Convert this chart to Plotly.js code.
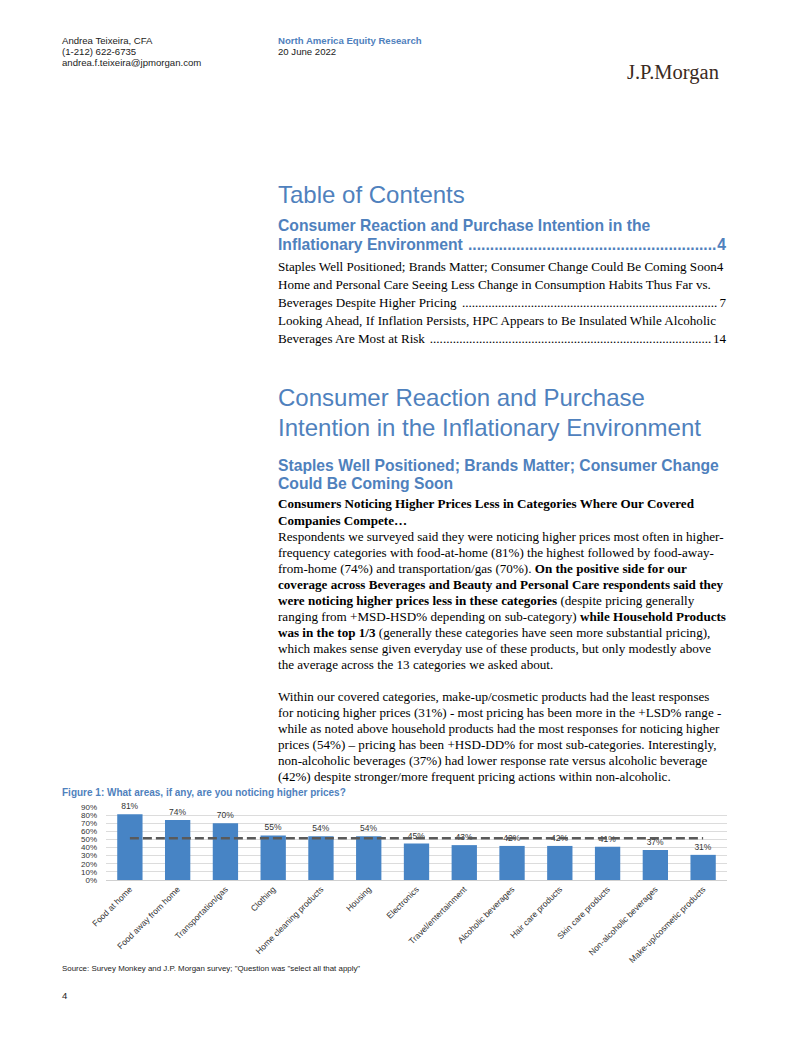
<!DOCTYPE html>
<html>
<head>
<meta charset="utf-8">
<script src="https://cdn.plot.ly/plotly-3.0.1.min.js"></script>
<style>
  html, body { margin:0; padding:0; background:#fff; }
  body { width:802px; height:1037px; position:relative; overflow:hidden; }
  .l { position:absolute; white-space:nowrap; }
  .sans { font-family:"Liberation Sans", Arial, sans-serif; }
  .serif { font-family:"Liberation Serif", "Times New Roman", serif; }
  .hdr { font-size:9.6px; color:#222; line-height:11px; }
  .blue { color:#4f81bd; }
  .big { font-size:24px; line-height:28px; color:#4f81bd; }
  .h2 { font-size:15.7px; line-height:19px; font-weight:bold; color:#4f81bd; }
  .body { font-size:13.1px; line-height:16px; color:#000; }
  .lead { display:flex; justify-content:space-between; width:448px; }
  #chart { position:absolute; left:0; top:785px; width:802px; height:190px; }
</style>
</head>
<body>
<div id="chart"></div>
<div id="page"></div>
<script>
// ---------- chart data ----------
const categories = ["Food at home","Food away from home","Transportation/gas","Clothing","Home cleaning products","Housing","Electronics","Travel/entertainment","Alcoholic beverages","Hair care products","Skin care products","Non-alcoholic beverages","Make-up/cosmetic products"];
const values = [81,74,70,55,54,54,45,43,42,42,41,37,31];
const valueLabels = ["81%","74%","70%","55%","54%","54%","45%","43%","42%","42%","41%","37%","31%"];
const averageLine = [51.5,51.5,51.5,51.5,51.5,51.5,51.5,51.5,51.5,51.5,51.5,51.5,51.5];
const yTickVals = [0,10,20,30,40,50,60,70,80,90];
const yTickText = ["0%","10%","20%","30%","40%","50%","60%","70%","80%","90%"];

// ---------- page text ----------
const page = document.getElementById('page');
function line(html, x, cy, cls, lh) {
  const d = document.createElement('div');
  d.className = 'l ' + cls;
  d.style.left = x + 'px';
  d.style.top = (cy - lh/2) + 'px';
  d.innerHTML = html;
  page.appendChild(d);
  return d;
}
function leader(prefix, suffix, x, cy, cls, lh) {
  const d = line('', x, cy, cls, lh);
  const wrap = document.createElement('div');
  wrap.className = 'lead';
  const a = document.createElement('span'); a.textContent = prefix + '\u00a0';
  const b = document.createElement('span'); b.textContent = '';
  const c = document.createElement('span'); c.textContent = suffix;
  wrap.appendChild(a); wrap.appendChild(b); wrap.appendChild(c);
  d.appendChild(wrap);
  const avail = 448 - 1;
  let n = 0;
  while (n < 400) {
    b.textContent = '.'.repeat(n + 1);
    if (a.offsetWidth + b.offsetWidth + c.offsetWidth > avail) { b.textContent = '.'.repeat(n); break; }
    n++;
  }
  return d;
}
line('Andrea Teixeira, CFA', 62, 40, 'sans hdr', 11);
line('(1-212) 622-6735', 62, 51, 'sans hdr', 11);
line('andrea.f.teixeira@jpmorgan.com', 62, 62, 'sans hdr', 11);
line('<b>North America Equity Research</b>', 278, 40, 'sans hdr blue', 11).style.color = '#4f81bd';
line('20 June 2022', 278, 51, 'sans hdr', 11);
const logo = line('J.P.Morgan', 627, 72, 'serif', 24);
logo.style.fontSize = '20.5px'; logo.style.lineHeight = '24px'; logo.style.color = '#3a2a22';

line('Table of Contents', 278, 195, 'sans big', 28);
line('Consumer Reaction and Purchase Intention in the', 278, 225, 'sans h2', 19);
leader('Inflationary Environment', '4', 278, 244, 'sans h2', 19);
line('Staples Well Positioned; Brands Matter; Consumer Change Could Be Coming Soon4', 278, 267, 'serif body', 16);
line('Home and Personal Care Seeing Less Change in Consumption Habits Thus Far vs.', 278, 285, 'serif body', 16);
leader('Beverages Despite Higher Pricing', '7', 278, 303, 'serif body', 16);
line('Looking Ahead, If Inflation Persists, HPC Appears to Be Insulated While Alcoholic', 278, 321, 'serif body', 16);
leader('Beverages Are Most at Risk', '14', 278, 339, 'serif body', 16);

line('Consumer Reaction and Purchase', 278, 398, 'sans big', 28);
line('Intention in the Inflationary Environment', 278, 428, 'sans big', 28);
line('Staples Well Positioned; Brands Matter; Consumer Change', 278, 465, 'sans h2', 19);
line('Could Be Coming Soon', 278, 483, 'sans h2', 19);
line('<b>Consumers Noticing Higher Prices Less in Categories Where Our Covered</b>', 278, 504, 'serif body', 16);
line('<b>Companies Compete…</b>', 278, 521, 'serif body', 16);
const bodyLines = [
 'Respondents we surveyed said they were noticing higher prices most often in higher-',
 'frequency categories with food-at-home (81%) the highest followed by food-away-',
 'from-home (74%) and transportation/gas (70%). <b>On the positive side for our</b>',
 '<b>coverage across Beverages and Beauty and Personal Care respondents said they</b>',
 '<b>were noticing higher prices less in these categories</b> (despite pricing generally',
 'ranging from +MSD-HSD% depending on sub-category) <b>while Household Products</b>',
 '<b>was in the top 1/3</b> (generally these categories have seen more substantial pricing),',
 'which makes sense given everyday use of these products, but only modestly above',
 'the average across the 13 categories we asked about.'
];
bodyLines.forEach((t,i)=>line(t, 278, 537 + i*16, 'serif body', 16));
const bodyLines2 = [
 'Within our covered categories, make-up/cosmetic products had the least responses',
 'for noticing higher prices (31%) - most pricing has been more in the +LSD% range -',
 'while as noted above household products had the most responses for noticing higher',
 'prices (54%) – pricing has been +HSD-DD% for most sub-categories. Interestingly,',
 'non-alcoholic beverages (37%) had lower response rate versus alcoholic beverage',
 '(42%) despite stronger/more frequent pricing actions within non-alcoholic.'
];
bodyLines2.forEach((t,i)=>line(t, 278, 697 + i*16, 'serif body', 16));

const fig = line('<b>Figure 1: What areas, if any, are you noticing higher prices?</b>', 62, 793, 'sans', 12);
fig.style.fontSize = '10px'; fig.style.color = '#4f81bd';
const src = line('Source: Survey Monkey and J.P. Morgan survey; "Question was "select all that apply"', 62, 969, 'sans', 10);
src.style.fontSize = '7.9px'; src.style.color = '#222';
const pn = line('4', 62, 995, 'sans', 11);
pn.style.fontSize = '9.5px'; pn.style.color = '#222';

// ---------- chart ----------
const font = "Liberation Sans, Arial, sans-serif";
const traces = [
  {
    type: 'bar', x: categories, y: values,
    text: valueLabels, textposition: 'outside', cliponaxis: false,
    textfont: { family: font, size: 8.5, color: '#333' },
    marker: { color: '#4784c5' },
    width: 0.53, hoverinfo: 'none'
  },
  {
    type: 'scatter', mode: 'lines', x: categories, y: averageLine,
    line: { color: '#5a5a5a', width: 2.5, dash: '9px,4px' },
    hoverinfo: 'none'
  }
];
const layout = {
  width: 802, height: 190,
  margin: { l: 106, r: 75, t: 22, b: 95 },
  paper_bgcolor: 'rgba(0,0,0,0)', plot_bgcolor: '#fff',
  showlegend: false,
  font: { family: font, size: 8.5, color: '#333' },
  xaxis: {
    type: 'category', tickangle: -45, automargin: false,
    showline: true, linecolor: '#d0d0d0', linewidth: 1,
    showgrid: false, ticks: '', tickfont: { family: font, size: 8.5, color: '#333' }
  },
  yaxis: {
    range: [0, 90], tickvals: yTickVals, ticktext: yTickText, automargin: false,
    showgrid: true, gridcolor: '#dcdcdc', gridwidth: 1, zeroline: false,
    ticks: '', ticklabelstandoff: 8,
    tickfont: { family: font, size: 8, color: '#333' }
  }
};
Plotly.newPlot('chart', traces, layout, { staticPlot: true, displayModeBar: false });
</script>
</body>
</html>
